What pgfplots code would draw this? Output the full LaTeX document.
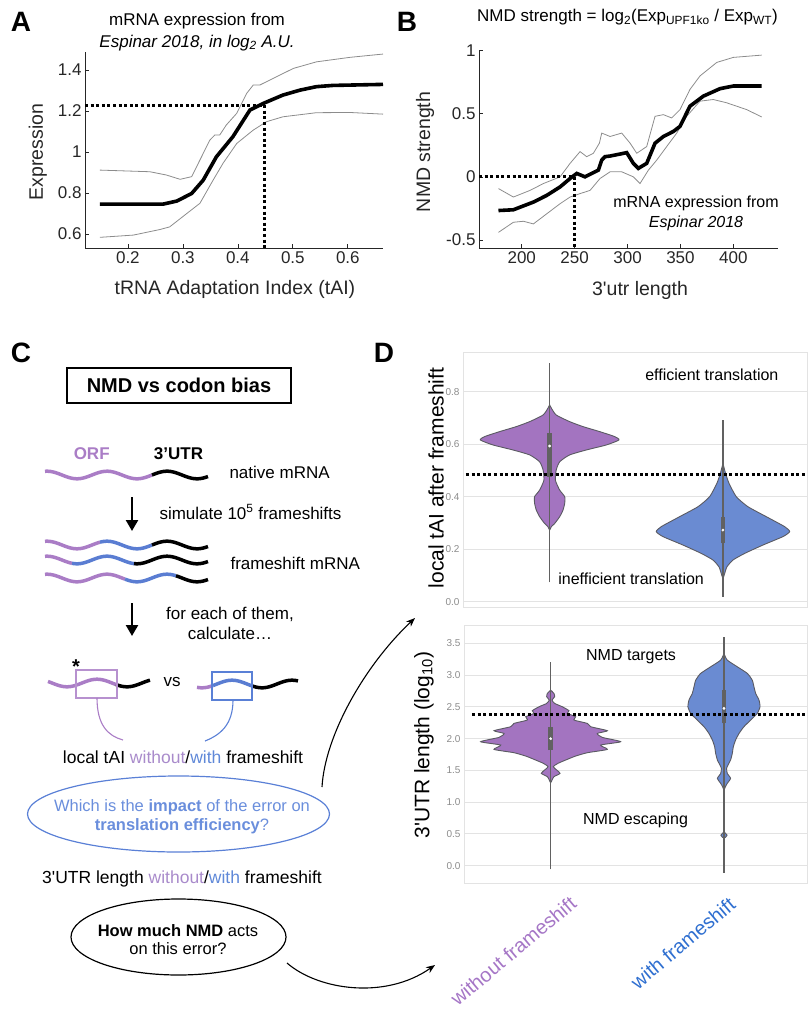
\documentclass[border=0pt]{standalone}
\usepackage{fontspec}
\setmainfont{Liberation Sans}
\usepackage{pgfplots}
\pgfplotsset{compat=1.18}
\usepackage{pgfplotstable}
\usetikzlibrary{arrows.meta}
\definecolor{vpurple}{HTML}{A374C0}
\definecolor{vblue}{HTML}{6A8BD2}
\definecolor{wpurple}{HTML}{AA7DC6}
\definecolor{wblue}{HTML}{5A7DD2}
\definecolor{tpurple}{HTML}{A98BCB}
\definecolor{tblue}{HTML}{5F88D8}
\definecolor{eblue}{HTML}{5A80D6}
\definecolor{qblue}{HTML}{6A8EDC}
\definecolor{lblue}{HTML}{2F6FD0}
\definecolor{lpurple}{HTML}{A576C6}
\definecolor{vedge}{HTML}{5A5A62}
\definecolor{mgray}{HTML}{262626}
\newcommand\fs[2]{\fontsize{#1}{#2}\selectfont}

% ---------- panel A data ----------
\pgfplotstableread{
x y
0.149 0.746
0.264 0.746
0.289 0.761
0.316 0.798
0.337 0.863
0.361 0.977
0.391 1.075
0.422 1.205
0.446 1.237
0.482 1.278
0.513 1.302
0.543 1.319
0.573 1.325
0.664 1.330
}\Amean
\pgfplotstableread{
x y
0.149 0.912
0.240 0.904
0.270 0.888
0.295 0.867
0.316 0.880
0.331 0.961
0.349 1.058
0.358 1.083
0.367 1.083
0.379 1.132
0.398 1.189
0.416 1.286
0.428 1.327
0.440 1.327
0.464 1.359
0.501 1.408
0.543 1.440
0.604 1.462
0.664 1.478
}\Aup
\pgfplotstableread{
x y
0.149 0.584
0.210 0.595
0.258 0.622
0.276 0.635
0.307 0.700
0.331 0.750
0.355 0.863
0.373 0.945
0.398 1.042
0.428 1.107
0.452 1.148
0.482 1.172
0.543 1.192
0.604 1.193
0.664 1.185
}\Alow
% ---------- panel B data ----------
\pgfplotstableread{
x y
178.0 -0.267
192.1 -0.261
211.0 -0.200
223.6 -0.147
236.2 -0.080
245.7 -0.013
252.0 0.027
259.8 0.000
266.1 0.027
272.4 0.053
275.6 0.133
278.7 0.160
283.5 0.165
293.0 0.181
299.2 0.192
305.5 0.107
310.2 0.067
318.1 0.107
326.0 0.267
333.9 0.320
343.3 0.360
349.6 0.400
359.0 0.560
371.7 0.640
387.4 0.699
400.0 0.720
426.8 0.720
}\Bmean
\pgfplotstableread{
x y
178.0 -0.093
192.1 -0.160
207.9 -0.107
220.5 -0.053
236.2 0.000
245.7 0.107
255.1 0.200
261.4 0.160
267.7 0.187
273.4 0.267
275.6 0.347
283.5 0.320
294.5 0.347
302.4 0.267
308.7 0.187
318.1 0.240
326.0 0.480
333.9 0.493
341.7 0.467
349.6 0.533
359.0 0.693
368.5 0.800
384.3 0.907
400.0 0.947
426.8 0.965
}\Bup
\pgfplotstableread{
x y
178.0 -0.440
192.1 -0.360
201.6 -0.352
211.0 -0.373
223.6 -0.293
236.2 -0.213
245.7 -0.160
255.1 -0.133
264.6 -0.107
274.0 -0.013
283.5 0.040
294.5 0.040
305.5 0.000
311.8 -0.053
319.7 0.053
327.6 0.133
337.0 0.240
346.5 0.347
355.9 0.480
368.5 0.600
381.1 0.613
393.7 0.587
412.6 0.533
426.8 0.475
}\Blow
% ---------- panel D violins: y and signed half width (right side down, left side up) ----------
\pgfplotstableread{
y w
0.750 0
0.737 0.010
0.711 0.038
0.686 0.115
0.667 0.192
0.648 0.288
0.629 0.375
0.616 0.400
0.597 0.327
0.578 0.212
0.559 0.115
0.533 0.058
0.502 0.038
0.463 0.033
0.425 0.058
0.400 0.087
0.375 0.087
0.349 0.077
0.324 0.058
0.298 0.029
0.286 0.010
0.273 0
0.286 -0.010
0.298 -0.029
0.324 -0.058
0.349 -0.077
0.375 -0.087
0.400 -0.087
0.425 -0.058
0.463 -0.033
0.502 -0.038
0.533 -0.058
0.559 -0.115
0.578 -0.212
0.597 -0.327
0.616 -0.400
0.629 -0.375
0.648 -0.288
0.667 -0.192
0.686 -0.115
0.711 -0.038
0.737 -0.010
0.750 0
}\VtopA
\pgfplotstableread{
y w
0.527 0
0.489 0.015
0.451 0.035
0.400 0.077
0.362 0.144
0.324 0.250
0.286 0.356
0.267 0.385
0.248 0.346
0.216 0.231
0.184 0.125
0.159 0.058
0.133 0.023
0.108 0.010
0.089 0
0.108 -0.010
0.133 -0.023
0.159 -0.058
0.184 -0.125
0.216 -0.231
0.248 -0.346
0.267 -0.385
0.286 -0.356
0.324 -0.250
0.362 -0.144
0.400 -0.077
0.451 -0.035
0.489 -0.015
0.527 0
}\VtopB
\pgfplotstableread{
y w
2.765 0
2.712 0.019
2.660 0.023
2.608 0.008
2.555 0.023
2.503 0.067
2.440 0.106
2.398 0.096
2.345 0.144
2.293 0.135
2.240 0.212
2.188 0.231
2.125 0.327
2.082 0.269
2.020 0.298
1.952 0.404
1.899 0.288
1.831 0.327
1.779 0.212
1.726 0.144
1.674 0.096
1.611 0.042
1.558 0.015
1.506 0.035
1.453 0.054
1.401 0.019
1.348 0.008
1.306 0
1.348 -0.008
1.401 -0.019
1.453 -0.054
1.506 -0.035
1.558 -0.015
1.611 -0.042
1.674 -0.096
1.726 -0.144
1.779 -0.212
1.831 -0.327
1.899 -0.288
1.952 -0.404
2.020 -0.298
2.082 -0.269
2.125 -0.327
2.188 -0.231
2.240 -0.212
2.293 -0.135
2.345 -0.144
2.398 -0.096
2.440 -0.106
2.503 -0.067
2.555 -0.023
2.608 -0.008
2.660 -0.023
2.712 -0.019
2.765 0
}\VbotA
\pgfplotstableread{
y w
3.342 0
3.237 0.019
3.132 0.077
3.027 0.135
2.922 0.163
2.817 0.173
2.712 0.183
2.608 0.202
2.503 0.208
2.398 0.192
2.293 0.154
2.188 0.115
2.083 0.087
1.978 0.067
1.873 0.054
1.768 0.048
1.663 0.038
1.584 0.023
1.532 0.015
1.453 0.019
1.375 0.038
1.296 0.019
1.243 0.008
1.191 0
1.243 -0.008
1.296 -0.019
1.375 -0.038
1.453 -0.019
1.532 -0.015
1.584 -0.023
1.663 -0.038
1.768 -0.048
1.873 -0.054
1.978 -0.067
2.083 -0.087
2.188 -0.115
2.293 -0.154
2.398 -0.192
2.503 -0.208
2.608 -0.202
2.712 -0.183
2.817 -0.173
2.922 -0.163
3.027 -0.135
3.132 -0.077
3.237 -0.019
3.342 0
}\VbotB
\pgfplotstableread{
y w
0.53 0
0.48 0.018
0.43 0
0.48 -0.018
0.53 0
}\VbotBs

\pgfplotsset{
  matlab/.style={
    scale only axis, anchor=south west,
    axis lines=left, axis line style={-, draw=mgray, line width=0.7pt},
    tick align=inside, major tick length=4pt, tick style={mgray, line width=0.7pt},
    tick label style={font=\fs{17}{20}, text=mgray},
    /pgf/number format/assume math mode=true,
    label style={font=\fs{19.5}{22}, text=mgray},
    xlabel style={anchor=center}, ylabel style={anchor=center},
    title style={font=\fs{17}{22}, align=center, anchor=center, text=black},
    clip=false,
  },
  vio/.style={
    scale only axis, anchor=south west,
    axis line style={draw=black!11, line width=1pt},
    xtick=\empty, ymajorgrids, grid style={black!11, line width=0.9pt},
    major tick length=0pt,
    yticklabel style={font=\fs{10}{12}, text=black!45},
    label style={font=\fs{21}{24}, text=black},
    ylabel style={anchor=center},
  },
  vshape/.style={draw=vedge, line width=0.9pt, smooth, tension=0.35},
  dots/.style={black, line width=3pt, dash pattern=on 3pt off 2.6pt, no markers},
}

\begin{document}
\begin{tikzpicture}
\path[use as bounding box] (0,0) rectangle (807pt,-1014pt);

% ================= Panel A =================
\begin{axis}[matlab, at={(85pt,-248pt)}, width=298pt, height=196pt,
  xmin=0.122, xmax=0.664, ymin=0.532, ymax=1.488,
  xtick={0.2,0.3,0.4,0.5,0.6}, ytick={0.6,0.8,1,1.2,1.4},
  xlabel={tRNA Adaptation Index (tAI)}, ylabel={Expression},
  xlabel style={at={(axis description cs:0.503,-0.214)}},
  ylabel style={at={(axis description cs:-0.158,0.49)}},
  title={mRNA expression from\\\textit{Espinar 2018, in log\textsubscript{2} A.U.}},
  title style={at={(axis description cs:0.376,1.072)}},
]
\addplot[gray!90, line width=0.8pt, no markers] table {\Aup};
\addplot[gray!90, line width=0.8pt, no markers] table {\Alow};
\addplot[black, line width=3.6pt, no markers] table {\Amean};
\addplot[dots] coordinates {(0.122,1.229) (0.449,1.229)};
\addplot[dots] coordinates {(0.449,1.229) (0.449,0.532)};
\end{axis}

% ================= Panel B =================
\begin{axis}[matlab, at={(479pt,-248pt)}, width=299.3pt, height=197.3pt,
  xmin=159.6, xmax=442.5, ymin=-0.564, ymax=1.0,
  xtick={200,250,300,350,400}, ytick={-0.5,0,0.5,1},
  xlabel={3\textquotesingle utr length}, ylabel={NMD strength},
  xlabel style={at={(axis description cs:0.538,-0.213)}},
  ylabel style={at={(axis description cs:-0.18,0.487)}},
  title={NMD strength = log\textsubscript{2}(Exp\textsubscript{UPF1ko} / Exp\textsubscript{WT})},
  title style={at={(axis description cs:0.496,1.14)}},
]
\addplot[gray!90, line width=0.8pt, no markers] table {\Bup};
\addplot[gray!90, line width=0.8pt, no markers] table {\Blow};
\addplot[black, line width=3.6pt, no markers] table {\Bmean};
\addplot[dots] coordinates {(159.6,0) (250,0)};
\addplot[dots] coordinates {(250,0) (250,-0.564)};
\end{axis}

% ================= Panel D top =================
\begin{axis}[vio, at={(463pt,-607pt)}, width=344pt, height=255pt,
  xmin=-0.5, xmax=1.485, ymin=-0.02, ymax=0.951,
  ytick={0,0.2,0.4,0.6,0.8}, yticklabels={0.0,0.2,0.4,0.6,0.8},
  ylabel={local tAI after frameshift},
  ylabel style={at={(axis description cs:-0.078,0.506)}},
]
\addplot[vshape, fill=vpurple] table[x expr={0+\thisrow{w}}, y=y] {\VtopA};
\addplot[vshape, fill=vblue] table[x expr={1+\thisrow{w}}, y=y] {\VtopB};
\addplot[black!62, line width=1.6pt, no markers] coordinates {(0,0.074) (0,0.908)};
\addplot[black!62, line width=1.6pt, no markers] coordinates {(1,0.019) (1,0.692)};
\addplot[black!62, line width=4.5pt, no markers] coordinates {(0,0.476) (0,0.641)};
\addplot[black!62, line width=4.5pt, no markers] coordinates {(1,0.222) (1,0.324)};
\addplot[only marks, mark=*, mark size=1.2pt, white] coordinates {(0,0.593) (1,0.273)};
\addplot[dots] coordinates {(-0.483,0.485) (1.485,0.485)};
\node[font=\fs{16}{18}] at (axis cs:0.936,0.864) {efficient translation};
\node[font=\fs{16}{18}] at (axis cs:0.47,0.087) {inefficient translation};
\end{axis}

% ================= Panel D bottom =================
\begin{axis}[vio, at={(464pt,-883.3pt)}, width=343pt, height=258.3pt,
  xmin=-0.5, xmax=1.479, ymin=-0.278, ymax=3.79,
  ytick={0,0.5,1,1.5,2,2.5,3,3.5}, yticklabels={0.0,0.5,1.0,1.5,2.0,2.5,3.0,3.5},
  ylabel={3\textquotesingle UTR length (log\textsubscript{10})},
  ylabel style={at={(axis description cs:-0.117,0.535)}},
]
\addplot[vshape, fill=vpurple] table[x expr={0+\thisrow{w}}, y=y] {\VbotA};
\addplot[vshape, fill=vblue] table[x expr={1+\thisrow{w}}, y=y] {\VbotB};
\addplot[vshape, fill=vblue] table[x expr={1+\thisrow{w}}, y=y] {\VbotBs};
\addplot[black!62, line width=1.6pt, no markers] coordinates {(0,-0.058) (0,3.21)};
\addplot[black!62, line width=1.6pt, no markers] coordinates {(1,-0.11) (1,3.6)};
\addplot[black!62, line width=4.5pt, no markers] coordinates {(0,1.82) (0,2.19)};
\addplot[black!62, line width=4.5pt, no markers] coordinates {(1,2.24) (1,2.765)};
\addplot[only marks, mark=*, mark size=1.2pt, white] coordinates {(0,2.0) (1,2.476)};
\addplot[dots] coordinates {(-0.454,2.382) (1.479,2.382)};
\node[font=\fs{16}{18}] at (axis cs:0.464,3.286) {NMD targets};
\node[font=\fs{16}{18}] at (axis cs:0.49,0.719) {NMD escaping};
\end{axis}

% ================= Diagram and labels =================
\begin{scope}[x=1pt,y=-1pt]
\node[font=\fs{28}{30}\bfseries] at (21,22) {A};
\node[font=\fs{28}{30}\bfseries] at (407,22) {B};
\node[font=\fs{28}{30}\bfseries] at (21,353) {C};
\node[font=\fs{28}{30}\bfseries] at (384,353) {D};

\node[font=\fs{16}{20}, align=center] at (696,213) {mRNA expression from\\\textit{Espinar 2018}};

\node[draw, line width=1.1pt, minimum width=224pt, minimum height=35pt, inner sep=0pt, font=\fs{20}{22}\bfseries] at (179,385.5) {NMD vs codon bias};

\node[font=\fs{17}{20}\bfseries, text=wpurple] at (91.7,454) {ORF};
\node[font=\fs{17}{20}\bfseries] at (178.5,454) {3’UTR};

\draw[wpurple, line width=3.5pt, domain=45:152, samples=40, smooth] plot (\x, {475-3.8*cos((\x-107)*6)});
\draw[black, line width=3.5pt, domain=152:208, samples=25, smooth] plot (\x, {475-3.8*cos((\x-107)*6)});
\node[font=\fs{17}{20}, anchor=west] at (226,472) {native mRNA};

\draw[line width=2.4pt, -{Triangle[width=12pt,length=11pt]}] (132,497) -- (132,531);
\node[font=\fs{17}{20}, anchor=west] at (156,512) {simulate 10\textsuperscript{5} frameshifts};

\draw[wpurple, line width=3.5pt, domain=45:100, samples=25, smooth] plot (\x, {545-3.8*cos((\x-107)*6)});
\draw[wblue, line width=3.5pt, domain=100:152, samples=25, smooth] plot (\x, {545-3.8*cos((\x-107)*6)});
\draw[black, line width=3.5pt, domain=152:208, samples=25, smooth] plot (\x, {545-3.8*cos((\x-107)*6)});
\draw[wpurple, line width=3.5pt, domain=45:72, samples=15, smooth] plot (\x, {560-3.8*cos((\x-107)*6)});
\draw[wblue, line width=3.5pt, domain=72:134, samples=30, smooth] plot (\x, {560-3.8*cos((\x-107)*6)});
\draw[black, line width=3.5pt, domain=134:208, samples=30, smooth] plot (\x, {560-3.8*cos((\x-107)*6)});
\draw[wpurple, line width=3.5pt, domain=45:125, samples=30, smooth] plot (\x, {578-3.8*cos((\x-107)*6)});
\draw[wblue, line width=3.5pt, domain=125:176, samples=25, smooth] plot (\x, {578-3.8*cos((\x-107)*6)});
\draw[black, line width=3.5pt, domain=176:208, samples=15, smooth] plot (\x, {578-3.8*cos((\x-107)*6)});
\node[font=\fs{17}{20}, anchor=west] at (227,563) {frameshift mRNA};

\draw[line width=2.4pt, -{Triangle[width=12pt,length=11pt]}] (132,603) -- (132,636);
\node[font=\fs{17}{20}, align=center] at (230,623) {for each of them,\\calculate…};

\draw[wpurple, line width=3.5pt, domain=48:116, samples=30, smooth] plot (\x, {683-3.8*cos((\x-97)*6)});
\draw[black, line width=3.5pt, domain=116:150, samples=20, smooth] plot (\x, {683-3.8*cos((\x-97)*6)});
\draw[wpurple!85, line width=1.1pt] (76,670) rectangle (117,698);
\node[font=\fs{20}{20}\bfseries] at (76,667) {*};
\node[font=\fs{17}{20}] at (172,682) {vs};
\draw[wpurple, line width=3.5pt, domain=197:213, samples=10, smooth] plot (\x, {684-3.8*cos((\x-232)*6)});
\draw[wblue, line width=3.5pt, domain=213:252, samples=20, smooth] plot (\x, {684-3.8*cos((\x-232)*6)});
\draw[black, line width=3.5pt, domain=252:298, samples=25, smooth] plot (\x, {684-3.8*cos((\x-232)*6)});
\draw[eblue, line width=1.1pt] (212,672) rectangle (252,700);
\draw[wpurple, line width=1.1pt] (97,698) .. controls (97,725) and (108,736) .. (123,740);
\draw[eblue, line width=1.1pt] (233,700) .. controls (233,725) and (220,735) .. (205,741);

\node[font=\fs{17.5}{20}] at (183,757) {local tAI \textcolor{tpurple}{without}/\textcolor{tblue}{with} frameshift};
\draw[eblue, line width=1.2pt] (178.5,814) ellipse [x radius=151, y radius=38];
\node[font=\fs{16.5}{19}, text=qblue] at (182,807) {Which is the \textbf{impact} of the error on};
\node[font=\fs{16.5}{19}, text=qblue] at (182,826) {\textbf{translation efficiency}?};

\node[font=\fs{17.5}{20}] at (182,879) {3\textquotesingle UTR length \textcolor{tpurple}{without}/\textcolor{tblue}{with} frameshift};
\draw[black, line width=1.2pt] (178.5,937) ellipse [x radius=107.5, y radius=38];
\node[font=\fs{16.5}{19}] at (178,931) {\textbf{How much NMD} acts};
\node[font=\fs{16.5}{19}] at (178,949) {on this error?};

\draw[line width=1.1pt, -{Stealth[length=9pt,width=7pt]}] (322,787) .. controls (325,735) and (365,665) .. (415,618);
\draw[line width=1.1pt, -{Stealth[length=9pt,width=7pt]}] (287,963) .. controls (318,990) and (385,1000) .. (435,965);

\node[font=\fs{20}{24}, text=lpurple, rotate=40, anchor=base east, inner sep=0pt] at (578,906) {without frameshift};
\node[font=\fs{20}{24}, text=lblue, rotate=40, anchor=base east, inner sep=0pt] at (737,907) {with frameshift};
\end{scope}
\end{tikzpicture}
\end{document}
